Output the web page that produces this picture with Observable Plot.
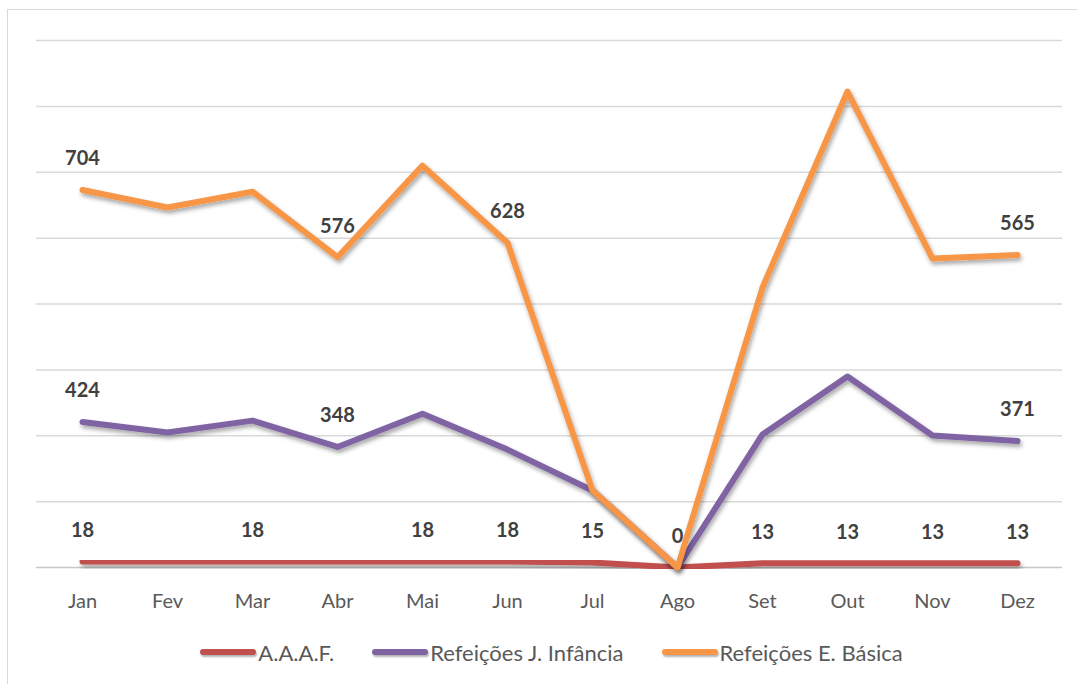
<!DOCTYPE html>
<html>
<head>
<meta charset="utf-8">
<script src="https://cdn.jsdelivr.net/npm/d3@7"></script>
<script src="https://cdn.jsdelivr.net/npm/@observablehq/plot@0.6"></script>
<style>
  html, body { margin: 0; padding: 0; background: #fff; overflow: hidden; }
  #wrap { position: relative; width: 1077px; height: 684px; overflow: hidden; font-family: Lato, "Open Sans", sans-serif; }
  #frame { position: absolute; left: 7px; top: 9px; width: 1200px; height: 800px; border: 1.5px solid #d9d9d9; box-sizing: border-box; }
  #chart { position: absolute; left: 0; top: 0; }
  #legend { position: absolute; left: 0; top: 629px; width: 1077px; height: 46px; box-sizing: border-box; padding-left: 26px; display: flex; justify-content: center; align-items: center; color: #595959; font-size: 22px; }
  .item { display: flex; align-items: center; margin: 0 19px; }
  .sw { width: 56px; height: 6px; border-radius: 3px; margin-right: 2px; box-shadow: 1px 2px 2px rgba(0,0,0,0.3); }
</style>
</head>
<body>
<div id="wrap">
  <div id="frame"></div>
  <div id="chart"></div>
  <div id="legend"></div>
</div>
<script>
const months = ["Jan","Fev","Mar","Abr","Mai","Jun","Jul","Ago","Set","Out","Nov","Dez"];
const seriesNames = ["A.A.A.F.", "Refeições J. Infância", "Refeições E. Básica"];
const seriesColors = ["#C0504D", "#8064A2", "#F79646"];
const aaaf     = [18, 18, 18, 18, 18, 18, 15, 0, 13, 13, 13, 13];
const infancia = [424, 392, 428, 348, 449, 340, 219, 0, 391, 567, 388, 371];
const basica   = [704, 683, 695, 576, 753, 628, 0, 0, 446, 865, 537, 565];
// which months show a data label, per series
const labelsAaaf     = ["Jan","Mar","Mai","Jun","Jul","Ago","Set","Out","Nov","Dez"];
const labelsInfancia = ["Jan","Abr","Dez"];
const labelsBasica   = ["Jan","Abr","Jun","Dez"];
const yTicks = [200, 400, 600, 800, 1000, 1200, 1400, 1600];

// stacked line chart: build cumulative rows
const allValues = [aaaf, infancia, basica];
const allLabels = [labelsAaaf, labelsInfancia, labelsBasica];
const rows = [];
months.forEach((m, i) => {
  let cum = 0;
  allValues.forEach((vals, s) => {
    cum += vals[i];
    rows.push({month: m, series: seriesNames[s], value: vals[i], top: cum, label: allLabels[s].includes(m)});
  });
});

const chart = Plot.plot({
  width: 1077,
  height: 630,
  marginLeft: 36,
  marginRight: 15,
  marginTop: 40,
  marginBottom: 63,
  style: {fontFamily: "Lato, 'Open Sans', sans-serif", background: "transparent"},
  x: {type: "point", domain: months, padding: 0.5, label: null, tickSize: 0, tickPadding: 27},
  y: {domain: [0, 1600], axis: null},
  color: {domain: seriesNames, range: seriesColors},
  marks: [
    Plot.ruleY(yTicks, {stroke: "#d9d9d9", strokeWidth: 1.5}),
    Plot.ruleY([0], {stroke: "#c8c8c8", strokeWidth: 1.5}),
    Plot.line(rows, {x: "month", y: "top", z: "series", stroke: "series", strokeWidth: 6, strokeLinecap: "round", strokeLinejoin: "round"}),
    Plot.text(rows.filter(d => d.label), {x: "month", y: "top", text: d => String(d.value), dy: -31, fill: "#404040", fontSize: 20, fontWeight: "bold"}),
    Plot.axisX({tickSize: 0, tickPadding: 26, fontSize: 20, fill: "#595959", label: null})
  ]
});

// drop shadow on the lines
const svg = d3.select(chart);
const defs = svg.insert("defs", ":first-child");
const f = defs.append("filter").attr("id", "shadow").attr("x", "-10%").attr("y", "-10%").attr("width", "120%").attr("height", "130%");
f.append("feDropShadow").attr("dx", 1.5).attr("dy", 3).attr("stdDeviation", 2).attr("flood-color", "#000").attr("flood-opacity", 0.35);
svg.selectAll("g[stroke-width='6'] path").attr("filter", "url(#shadow)");

document.getElementById("chart").appendChild(chart);

const legend = document.getElementById("legend");
seriesNames.forEach((name, i) => {
  const item = document.createElement("div");
  item.className = "item";
  const sw = document.createElement("span");
  sw.className = "sw";
  sw.style.background = seriesColors[i];
  const t = document.createElement("span");
  t.textContent = name;
  item.appendChild(sw);
  item.appendChild(t);
  legend.appendChild(item);
});
</script>
</body>
</html>
